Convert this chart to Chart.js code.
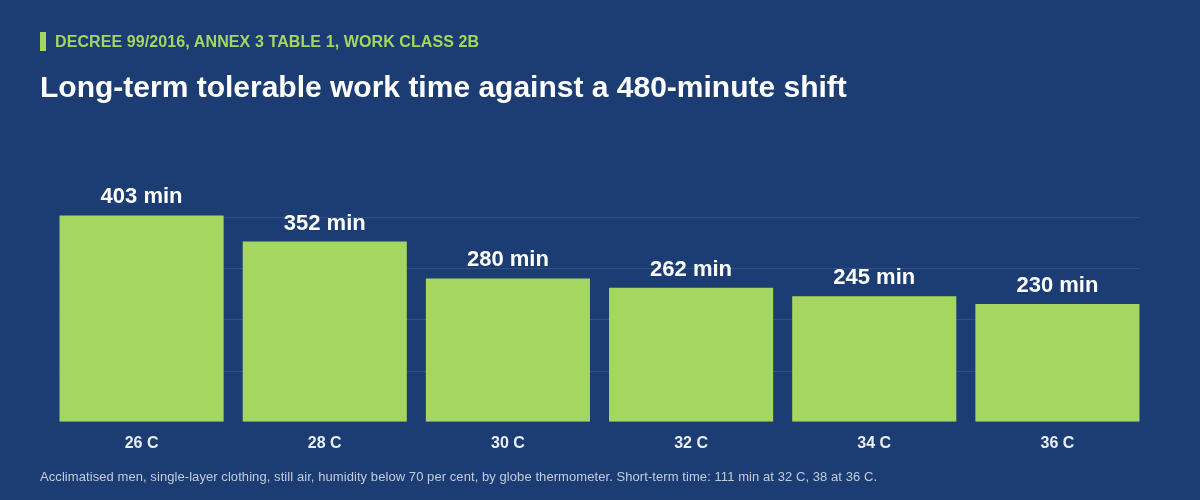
<!DOCTYPE html>
<html>
<head>
<meta charset="utf-8">
<script src="https://cdn.jsdelivr.net/npm/chart.js@4/dist/chart.umd.min.js"></script>
<style>
    html, body {
        margin: 0;
        padding: 0;
        width: 1200px;
        height: 500px;
        background: #1c3d74;
        overflow: hidden;
        font-family: "Liberation Sans", Arial, sans-serif;
    }
    .kicker {
        position: absolute;
        left: 40px;
        top: 32px;
        height: 19px;
        border-left: 6px solid #a5d65f;
        padding-left: 9px;
        color: #a5d65f;
        font-weight: bold;
        font-size: 16px;
        letter-spacing: 0.1px;
        line-height: 19px;
    }
    .title {
        position: absolute;
        left: 40px;
        top: 70px;
        color: #ffffff;
        font-weight: bold;
        font-size: 30px;
        line-height: 34px;
    }
    .note {
        position: absolute;
        left: 40px;
        top: 469px;
        color: #c3cbdb;
        font-size: 13px;
        letter-spacing: 0.07px;
        line-height: 16px;
    }
    .chart-wrapper {
        position: absolute;
        left: 0;
        top: 0;
        width: 1200px;
        height: 500px;
    }
</style>
</head>
<body>
<div class="chart-wrapper"><canvas id="chart" width="1200" height="500"></canvas></div>
<div class="kicker">DECREE 99/2016, ANNEX 3 TABLE 1, WORK CLASS 2B</div>
<div class="title">Long-term tolerable work time against a 480-minute shift</div>
<div class="note">Acclimatised men, single-layer clothing, still air, humidity below 70 per cent, by globe thermometer. Short-term time: 111 min at 32 C, 38 at 36 C.</div>
<script>
const temperatures = ['26 C', '28 C', '30 C', '32 C', '34 C', '36 C'];
const workMinutes = [403, 352, 280, 262, 245, 230];
const gridValues = [100, 200, 300, 400];
const shiftMinutes = 480;

// faint horizontal lines, only across the bars
const gridPlugin = {
    id: 'barGrid',
    beforeDatasetsDraw(chart) {
        const meta = chart.getDatasetMeta(0);
        const first = meta.data[0];
        const last = meta.data[meta.data.length - 1];
        const left = first.x - first.width / 2;
        const right = last.x + last.width / 2;
        const y = chart.scales.y;
        const ctx = chart.ctx;
        ctx.save();
        ctx.strokeStyle = 'rgba(255, 255, 255, 0.1)';
        ctx.lineWidth = 1;
        for (const v of gridValues) {
            const py = Math.round(y.getPixelForValue(v)) + 0.5;
            ctx.beginPath();
            ctx.moveTo(left, py);
            ctx.lineTo(right, py);
            ctx.stroke();
        }
        ctx.restore();
    }
};

const valueLabels = {
    id: 'valueLabels',
    afterDatasetsDraw(chart) {
        const ctx = chart.ctx;
        const meta = chart.getDatasetMeta(0);
        ctx.save();
        ctx.fillStyle = '#ffffff';
        ctx.font = 'bold 22px "Liberation Sans", Arial, sans-serif';
        ctx.textAlign = 'center';
        ctx.textBaseline = 'alphabetic';
        meta.data.forEach((bar, i) => {
            ctx.fillText(`${workMinutes[i]} min`, bar.x, bar.y - 12);
        });
        ctx.restore();
    }
};

const ctx = document.getElementById('chart').getContext('2d');
new Chart(ctx, {
    type: 'bar',
    data: {
        labels: temperatures,
        datasets: [{
            data: workMinutes,
            backgroundColor: '#a5d65f',
            borderWidth: 0,
            categoryPercentage: 1,
            barPercentage: 0.896,
        }]
    },
    options: {
        responsive: false,
        animation: false,
        layout: {
            padding: { left: 50, right: 51, top: 176, bottom: 35 }
        },
        plugins: {
            legend: { display: false },
            tooltip: { enabled: false }
        },
        scales: {
            x: {
                grid: { display: false, drawTicks: false },
                border: { display: false },
                ticks: {
                    color: '#e9eef6',
                    padding: 12,
                    font: { size: 16, weight: 'bold', family: '"Liberation Sans", Arial, sans-serif' }
                }
            },
            y: {
                display: false,
                min: 0,
                max: shiftMinutes
            }
        }
    },
    plugins: [gridPlugin, valueLabels]
});
</script>
</body>
</html>
